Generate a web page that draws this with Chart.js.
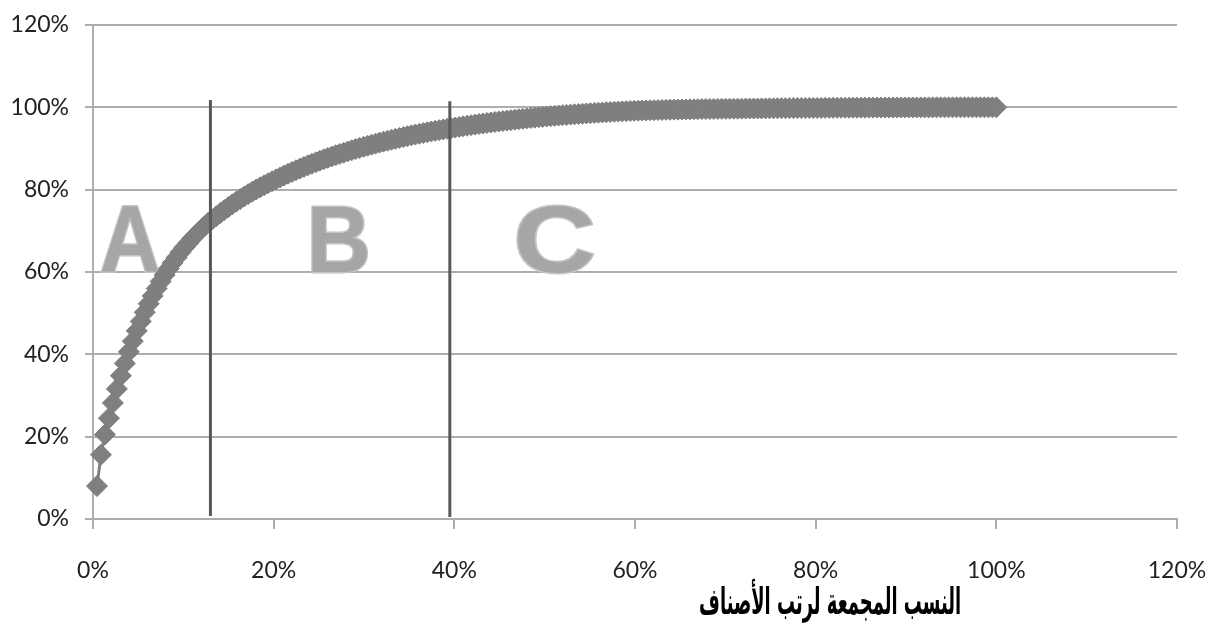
<!DOCTYPE html>
<html>
<head>
<meta charset="utf-8">
<script src="https://cdn.jsdelivr.net/npm/chart.js@4"></script>
<style>
html,body{margin:0;padding:0;background:#fff;}
#wrap{width:1210px;height:625px;position:relative;}
</style>
</head>
<body>
<div id="wrap"><canvas id="c" width="1210" height="625"></canvas></div>
<script>
// Cumulative share of value (%) for each item, items sorted by rank
const cumulativeShare = [
  8.0, 15.6, 20.5, 24.5, 28.2, 31.6, 34.8, 37.8, 40.6, 43.2,
  45.7, 48.0, 50.2, 52.3, 54.2, 56.0, 57.7, 59.3, 60.8, 62.2,
  63.5, 64.8, 66.0, 67.1, 68.2, 69.2, 70.2, 71.1, 72.0, 72.8,
  73.57, 74.32, 75.05, 75.75, 76.43, 77.09, 77.72, 78.33, 78.92, 79.48,
  80.03, 80.56, 81.07, 81.57, 82.05, 82.52, 82.98, 83.43, 83.87, 84.30,
  84.72, 85.13, 85.53, 85.92, 86.30, 86.67, 87.03, 87.38, 87.72, 88.05,
  88.37, 88.68, 88.98, 89.28, 89.57, 89.86, 90.14, 90.41, 90.67, 90.93,
  91.18, 91.43, 91.67, 91.90, 92.13, 92.35, 92.57, 92.78, 92.99, 93.19,
  93.38, 93.57, 93.76, 93.94, 94.12, 94.29, 94.46, 94.62, 94.78, 94.94,
  95.09, 95.24, 95.39, 95.53, 95.67, 95.81, 95.94, 96.07, 96.20, 96.32,
  96.44, 96.56, 96.67, 96.78, 96.89, 97.00, 97.11, 97.21, 97.31, 97.41,
  97.50, 97.59, 97.68, 97.77, 97.85, 97.93, 98.01, 98.09, 98.16, 98.23,
  98.30, 98.37, 98.44, 98.51, 98.57, 98.64, 98.70, 98.76, 98.81, 98.87,
  98.92, 98.97, 99.02, 99.07, 99.11, 99.15, 99.19, 99.22, 99.25, 99.28,
  99.31, 99.34, 99.37, 99.39, 99.41, 99.43, 99.45, 99.47, 99.49, 99.51,
  99.53, 99.55, 99.57, 99.58, 99.59, 99.60, 99.62, 99.63, 99.64, 99.65,
  99.66, 99.67, 99.68, 99.69, 99.70, 99.71, 99.72, 99.73, 99.74, 99.75,
  99.76, 99.77, 99.78, 99.79, 99.80, 99.81, 99.82, 99.82, 99.83, 99.84,
  99.85, 99.85, 99.86, 99.87, 99.87, 99.88, 99.89, 99.89, 99.90, 99.90,
  99.91, 99.91, 99.92, 99.92, 99.93, 99.93, 99.94, 99.94, 99.95, 99.95,
  99.95, 99.96, 99.96, 99.96, 99.97, 99.97, 99.97, 99.98, 99.98, 99.98,
  99.98, 99.99, 99.99, 99.99, 99.99, 99.99, 99.99, 100, 100, 100,
  100, 100, 100, 100, 100, 100, 100
];
// Class boundaries on the item-share axis (%)
const boundaryX = [13.0, 39.5];
const boundaryTop = [101.8, 101.5];
const boundaryBottom = [0.7, 0.5];
// Class names
const classNames = ['A', 'B', 'C'];
const classCenterX = [4.1, 27.2, 51.1];
// Axis ticks
const xTicks = [0, 20, 40, 60, 80, 100, 120];
const yTicks = [0, 20, 40, 60, 80, 100, 120];
const xTitle = 'النسب المجمعة لرتب الأصناف';

const itemCount = cumulativeShare.length;
const curvePoints = cumulativeShare.map((v, i) => ({ x: (i + 1) / itemCount * 100, y: v }));

const GRID = '#adadad';
const TICK_FONT = { family: 'Lato', size: 23 };

const boundaryDatasets = boundaryX.map((bx, i) => ({
  label: 'boundary' + i,
  data: [{ x: bx, y: boundaryBottom[i] }, { x: bx, y: boundaryTop[i] }],
  showLine: true,
  borderColor: '#595959',
  borderWidth: 3,
  pointRadius: 0,
  pointHoverRadius: 0,
  order: 0
}));

const overlayPlugin = {
  id: 'overlay',
  beforeDatasetsDraw(chart) {
    const { ctx, scales } = chart;
    const letterWidths = [60, 64, 82];
    ctx.save();
    classNames.forEach((t, i) => {
      const cx = scales.x.getPixelForValue(classCenterX[i]);
      const by = scales.y.getPixelForValue(60);
      ctx.font = 'bold 94px "Liberation Sans"';
      const w = ctx.measureText(t).width;
      const sx = letterWidths[i] / w;
      ctx.save();
      ctx.translate(cx, by);
      ctx.scale(sx, 1);
      ctx.textAlign = 'center';
      ctx.textBaseline = 'alphabetic';
      ctx.lineJoin = 'round';
      ctx.strokeStyle = '#c4c4c4';
      ctx.lineWidth = 3;
      ctx.strokeText(t, 0, 0);
      ctx.fillStyle = '#a6a6a6';
      ctx.fillText(t, 0, 0);
      ctx.restore();
    });
    ctx.restore();
  },
  afterDraw(chart) {
    const { ctx, scales } = chart;
    ctx.save();
    ctx.font = 'bold 37px "DejaVu Sans"';
    ctx.direction = 'rtl';
    const w = ctx.measureText(xTitle).width;
    const target = 262;
    const cx = scales.x.getPixelForValue(81.6);
    ctx.translate(cx, 604);
    ctx.scale(target / w, 1);
    ctx.textAlign = 'center';
    ctx.textBaseline = 'middle';
    ctx.fillStyle = '#000';
    ctx.fillText(xTitle, 0, 0);
    ctx.restore();
  }
};

new Chart(document.getElementById('c'), {
  type: 'scatter',
  data: {
    datasets: [
      ...boundaryDatasets,
      {
        label: 'cumulative',
        data: curvePoints,
        showLine: true,
        borderColor: '#7f7f7f',
        borderWidth: 3,
        backgroundColor: '#7f7f7f',
        pointStyle: 'rectRot',
        pointRadius: 10.5,
        pointHoverRadius: 10.5,
        pointBorderWidth: 1,
        pointBorderColor: '#7f7f7f',
        tension: 0,
        clip: false,
        order: 1
      }
    ]
  },
  options: {
    responsive: false,
    animation: false,
    events: [],
    layout: { autoPadding: false, padding: { left: 0, right: 33, top: 25, bottom: 0 } },
    plugins: { legend: { display: false }, tooltip: { enabled: false }, title: { display: false } },
    scales: {
      x: {
        type: 'linear',
        position: 'bottom',
        min: 0, max: 120,
        afterBuildTicks(s) { s.ticks = xTicks.map(v => ({ value: v })); },
        afterFit(s) { s.height = 106; s.paddingLeft = 0; s.paddingRight = 0; },
        ticks: { callback: v => v + '%', font: TICK_FONT, color: '#222', padding: 28, maxRotation: 0 },
        grid: { drawOnChartArea: false, drawTicks: true, tickLength: 10, color: GRID, lineWidth: 2 },
        border: { color: GRID, width: 2 }
      },
      y: {
        type: 'linear',
        min: 0, max: 120,
        afterBuildTicks(s) { s.ticks = yTicks.map(v => ({ value: v })); },
        afterFit(s) { s.width = 93; s.paddingTop = 0; s.paddingBottom = 0; },
        ticks: { callback: v => v + '%', font: TICK_FONT, color: '#222', padding: 16 },
        grid: { color: GRID, lineWidth: 2, tickLength: 8 },
        border: { color: GRID, width: 2 }
      }
    }
  },
  plugins: [overlayPlugin]
});
</script>
</body>
</html>
